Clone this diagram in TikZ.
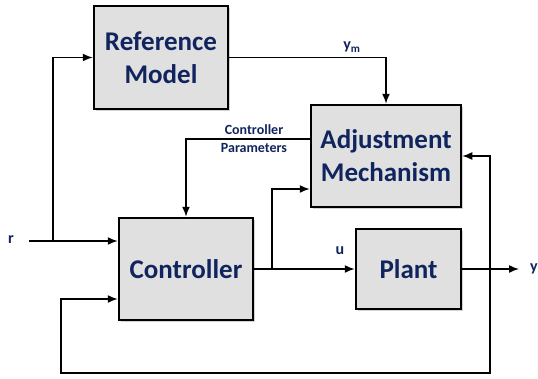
\documentclass[tikz,border=0pt]{standalone}
\usepackage{fontspec}
\setmainfont{Carlito}
\usetikzlibrary{arrows.meta,shadows}
\definecolor{navy}{RGB}{16,36,94}
\definecolor{boxfill}{RGB}{224,224,224}
\begin{document}
\begin{tikzpicture}[x=1pt,y=-1pt,
 blockbox/.style={draw=black,line width=2.5pt,fill=boxfill,
   drop shadow={shadow xshift=2pt,shadow yshift=-2pt,opacity=0.35},
   text=navy,font=\fontsize{27}{33}\selectfont\bfseries,align=center,inner sep=0pt},
 sig/.style={line width=1.5pt,-{Latex[length=10pt,width=8pt]}},
 wire/.style={line width=1.5pt},
 lbl/.style={text=navy,font=\fontsize{16}{18}\selectfont\bfseries,inner sep=0pt},
 slbl/.style={text=navy,font=\fontsize{14}{18}\selectfont\bfseries,align=center,inner sep=0pt}]
\useasboundingbox (0,0) rectangle (538,378);
\node[blockbox,minimum width=134pt,minimum height=103pt] (ref) at (161,57.5) {Reference\\Model};
\node[blockbox,minimum width=150pt,minimum height=102pt] (adj) at (386,156) {Adjustment\\Mechanism};
\node[blockbox,minimum width=134pt,minimum height=102pt] (ctrl) at (186,269) {Controller};
\node[blockbox,minimum width=105pt,minimum height=80pt] (plant) at (408.5,269) {Plant};
% input r
\coordinate (rin) at (29,241);
\coordinate (rj) at (53,241);
\draw[wire] (rin) -- (rj);
\draw[sig] (rj) -- (ctrl.west |- rj);
\draw[sig] (rj) |- (ref.west);
\node[lbl] (rl) at (11,240) {r};
% reference model output
\draw[sig] (ref.east) -| (adj.north);
\node[lbl] (yml) at (352,47) {y\textsubscript{m}};
% controller parameters
\coordinate (cp) at (187,139);
\draw[sig] (adj.west |- cp) -| (ctrl.north);
\node[slbl] (cpl) at (254,139) {Controller\\Parameters};
% control signal u
\coordinate (uj) at (272,269);
\coordinate (aj) at (272,189);
\draw[sig] (ctrl.east) -- (plant.west);
\draw[sig] (uj) -- (aj) -- (adj.west |- aj);
\node[lbl] (ul) at (340,251) {u};
% plant output
\coordinate (yo) at (519,269);
\draw[sig] (plant.east) -- (yo);
\node[lbl,anchor=west] (yl) at (530,269) {y};
% feedback
\coordinate (fj) at (490,269);
\coordinate (fb) at (490,373);
\coordinate (fl) at (61,373);
\coordinate (fc) at (61,299);
\draw[sig] (fj) |- (adj.east);
\draw[sig] (fj) -- (fb) -- (fl) -- (fc) -- (ctrl.west |- fc);
\end{tikzpicture}
\end{document}
